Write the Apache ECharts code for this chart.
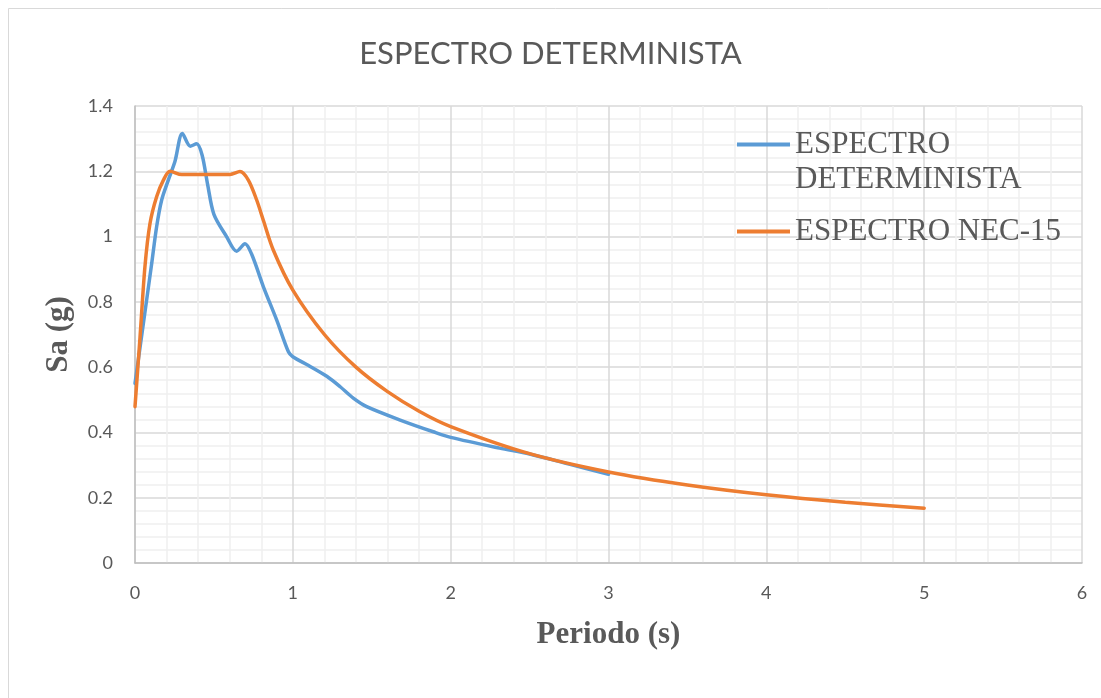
<!DOCTYPE html>
<html>
<head>
<meta charset="utf-8">
<script src="https://cdn.jsdelivr.net/npm/echarts@6/dist/echarts.min.js"></script>
<style>
  html, body { margin: 0; padding: 0; background: #ffffff; }
  #chart { width: 1101px; height: 698px; }
</style>
</head>
<body>
<div id="chart"></div>
<script>
// Periodo T (s) y aceleración espectral Sa (g) de cada espectro
const detPeriods = [0, 0.053, 0.106, 0.137, 0.169, 0.211, 0.253, 0.30, 0.35, 0.39, 0.425, 0.46, 0.50, 0.58, 0.644, 0.697, 0.74, 0.813, 0.898, 0.972, 1.0, 1.1, 1.215, 1.30, 1.383, 1.468, 1.68, 1.89, 2.0, 2.31, 2.5, 2.75, 3.0];
const detSa = [0.55, 0.734, 0.918, 1.03, 1.112, 1.173, 1.23, 1.316, 1.277, 1.284, 1.25, 1.16, 1.068, 1.0, 0.955, 0.978, 0.945, 0.847, 0.744, 0.647, 0.632, 0.605, 0.572, 0.54, 0.505, 0.479, 0.438, 0.402, 0.385, 0.352, 0.334, 0.303, 0.272];

const necPeriods = [0, 0.032, 0.063, 0.095, 0.137, 0.18, 0.222, 0.296, 0.45, 0.602, 0.665, 0.718, 0.771, 0.813, 0.876, 1.0, 1.2, 1.4, 1.6, 1.8, 2.0, 2.5, 3.0, 3.5, 4.0, 4.5, 5.0];
const necSa = [0.479, 0.693, 0.908, 1.04, 1.122, 1.173, 1.2, 1.19, 1.19, 1.19, 1.199, 1.173, 1.112, 1.05, 0.959, 0.836, 0.70, 0.60, 0.525, 0.465, 0.418, 0.335, 0.279, 0.239, 0.209, 0.186, 0.168];

const seriesNames = ['ESPECTRO DETERMINISTA', 'ESPECTRO NEC-15'];
const chartTitle = 'ESPECTRO DETERMINISTA';
const xName = 'Periodo (s)';
const yName = 'Sa (g)';

const pairs = (xs, ys) => xs.map((x, i) => [x, ys[i]]);

const chart = echarts.init(document.getElementById('chart'));
const gray = '#595959';

chart.setOption({
  animation: false,
  backgroundColor: '#ffffff',
  title: {
    text: chartTitle,
    left: 'center',
    top: 33,
    textStyle: { fontFamily: 'Lato', fontWeight: 'normal', fontSize: 31, color: gray }
  },
  graphic: [{
    type: 'rect',
    shape: { x: 8.5, y: 8.5, width: 1300, height: 900 },
    style: { fill: 'none', stroke: '#d9d9d9', lineWidth: 1 },
    silent: true
  }],
  legend: {
    orient: 'vertical',
    left: 732,
    top: 87,
    itemWidth: 53,
    itemHeight: 4,
    itemGap: 17,
    icon: 'rect',
    textStyle: { fontFamily: 'Liberation Serif', fontSize: 31, color: gray, lineHeight: 35 },
    data: seriesNames,
    // the long name wraps onto a second line, with the key on its first line
    formatter: name => name === seriesNames[0] ? ' \nESPECTRO\nDETERMINISTA' : name
  },
  grid: { left: 135, right: 19, top: 106, bottom: 135, containLabel: false },
  xAxis: {
    type: 'value',
    min: 0, max: 6, interval: 1,
    name: xName,
    nameLocation: 'middle',
    nameGap: 56,
    nameTextStyle: { fontFamily: 'Liberation Serif', fontWeight: 'bold', fontSize: 31, color: gray },
    axisLine: { show: true, lineStyle: { color: '#bfbfbf', width: 1.5 } },
    axisTick: { show: false },
    axisLabel: { fontFamily: 'Lato', fontSize: 18, color: gray, margin: 21 },
    splitLine: { show: true, lineStyle: { color: '#d9d9d9', width: 1.5 } },
    minorTick: { show: false, splitNumber: 5 },
    minorSplitLine: { show: true, lineStyle: { color: '#f0f0f0', width: 1.5 } }
  },
  yAxis: {
    type: 'value',
    min: 0, max: 1.4, interval: 0.2,
    name: yName,
    nameLocation: 'middle',
    nameRotate: 90,
    nameGap: 61,
    nameTextStyle: { fontFamily: 'Liberation Serif', fontWeight: 'bold', fontSize: 31, color: gray },
    axisLine: { show: true, lineStyle: { color: '#bfbfbf', width: 1.5 } },
    axisTick: { show: false },
    axisLabel: { fontFamily: 'Lato', fontSize: 18, color: gray, margin: 22 },
    splitLine: { show: true, lineStyle: { color: '#d9d9d9', width: 1.5 } },
    minorTick: { show: false, splitNumber: 5 },
    minorSplitLine: { show: true, lineStyle: { color: '#f0f0f0', width: 1.5 } }
  },
  series: [
    {
      name: seriesNames[0],
      type: 'line',
      data: pairs(detPeriods, detSa),
      smooth: 0.3,
      showSymbol: false,
      symbol: 'none',
      color: '#5b9bd5',
      lineStyle: { width: 3.5, color: '#5b9bd5', cap: 'round' },
      z: 3
    },
    {
      name: seriesNames[1],
      type: 'line',
      data: pairs(necPeriods, necSa),
      smooth: 0.3,
      showSymbol: false,
      symbol: 'none',
      color: '#ed7d31',
      lineStyle: { width: 3.5, color: '#ed7d31', cap: 'round' },
      z: 4
    }
  ]
});
</script>
</body>
</html>
